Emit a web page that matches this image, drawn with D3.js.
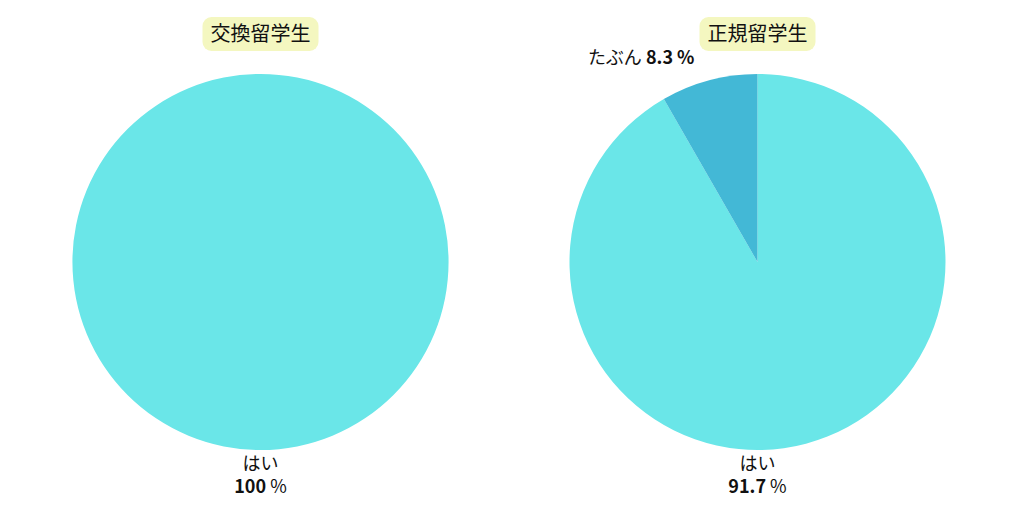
<!DOCTYPE html>
<html>
<head>
<meta charset="utf-8">
<script src="https://cdn.jsdelivr.net/npm/d3@7"></script>
<style>
  body { margin: 0; background: #fff; }
  svg { font-family: "Noto Sans CJK JP", "Noto Sans", sans-serif; }
</style>
</head>
<body>
<div id="container"></div>
<script>
//chart data
var groups = ["交換留学生", "正規留学生"];
var answers = ["はい", "たぶん"];
var shares = [
    [100, 0],
    [91.7, 8.3]
];
var sliceColors = ["#6ae6e8", "#43b8d6"];

window.onload = drawCharts;

function drawCharts() {
    var width = 1024,
        height = 512;

    var svg = d3.select("#container")
        .append("svg")
        .attr("width", width)
        .attr("height", height);

    //one column per group
    var xScale = d3.scaleBand()
        .domain(groups)
        .range([12, 1006]);

    var radius = 188,
        cy = 262;

    var color = d3.scaleOrdinal()
        .domain(answers)
        .range(sliceColors);

    var pie = d3.pie()
        .sort(null)
        .value(function (d) { return d.value; });

    var arc = d3.arc()
        .innerRadius(0)
        .outerRadius(radius);

    var labelArc = d3.arc()
        .innerRadius(radius + 14)
        .outerRadius(radius + 14);

    groups.forEach(function (g, gi) {
        var cx = xScale(g) + xScale.bandwidth() / 2;

        var data = answers.map(function (a, i) {
            return { name: a, value: shares[gi][i] };
        });

        var chart = svg.append("g")
            .attr("transform", "translate(" + cx + "," + cy + ")");

        chart.selectAll(".slice")
            .data(pie(data).filter(function (d) { return d.data.value > 0; }))
            .enter()
            .append("path")
            .attr("class", "slice")
            .attr("d", arc)
            .attr("fill", function (d) { return color(d.data.name); });

        //title box
        var title = svg.append("g")
            .attr("transform", "translate(" + cx + ",34)");
        var titleText = title.append("text")
            .attr("text-anchor", "middle")
            .attr("dy", "0.35em")
            .attr("font-size", 20)
            .attr("font-weight", 400)
            .attr("fill", "#111")
            .text(g);
        var bb = titleText.node().getBBox();
        title.insert("rect", "text")
            .attr("x", bb.x - 8)
            .attr("y", -17)
            .attr("width", bb.width + 16)
            .attr("height", 34)
            .attr("rx", 9)
            .attr("fill", "#f4f7c0");

        //labels
        pie(data).forEach(function (d, i) {
            if (d.data.value <= 0) return;
            if (i === 0) {
                //main slice label under the pie
                var lab = chart.append("text")
                    .attr("text-anchor", "middle")
                    .attr("font-size", 18)
                    .attr("fill", "#111");
                lab.append("tspan")
                    .attr("x", 0)
                    .attr("y", radius + 20)
                    .text(d.data.name);
                var line2 = lab.append("tspan")
                    .attr("x", 0)
                    .attr("y", radius + 43);
                line2.append("tspan").attr("font-weight", "bold").text(d.data.value + " ");
                line2.append("tspan").text("%");
            } else {
                var p = labelArc.centroid(d);
                var lab2 = chart.append("text")
                    .attr("x", p[0] - 11)
                    .attr("y", p[1] - 3)
                    .attr("text-anchor", "end")
                    .attr("font-size", 18)
                    .attr("fill", "#111");
                lab2.append("tspan").text(d.data.name + " ");
                lab2.append("tspan").attr("font-weight", "bold").text(d.data.value + " %");
            }
        });
    });
}
</script>
</body>
</html>
